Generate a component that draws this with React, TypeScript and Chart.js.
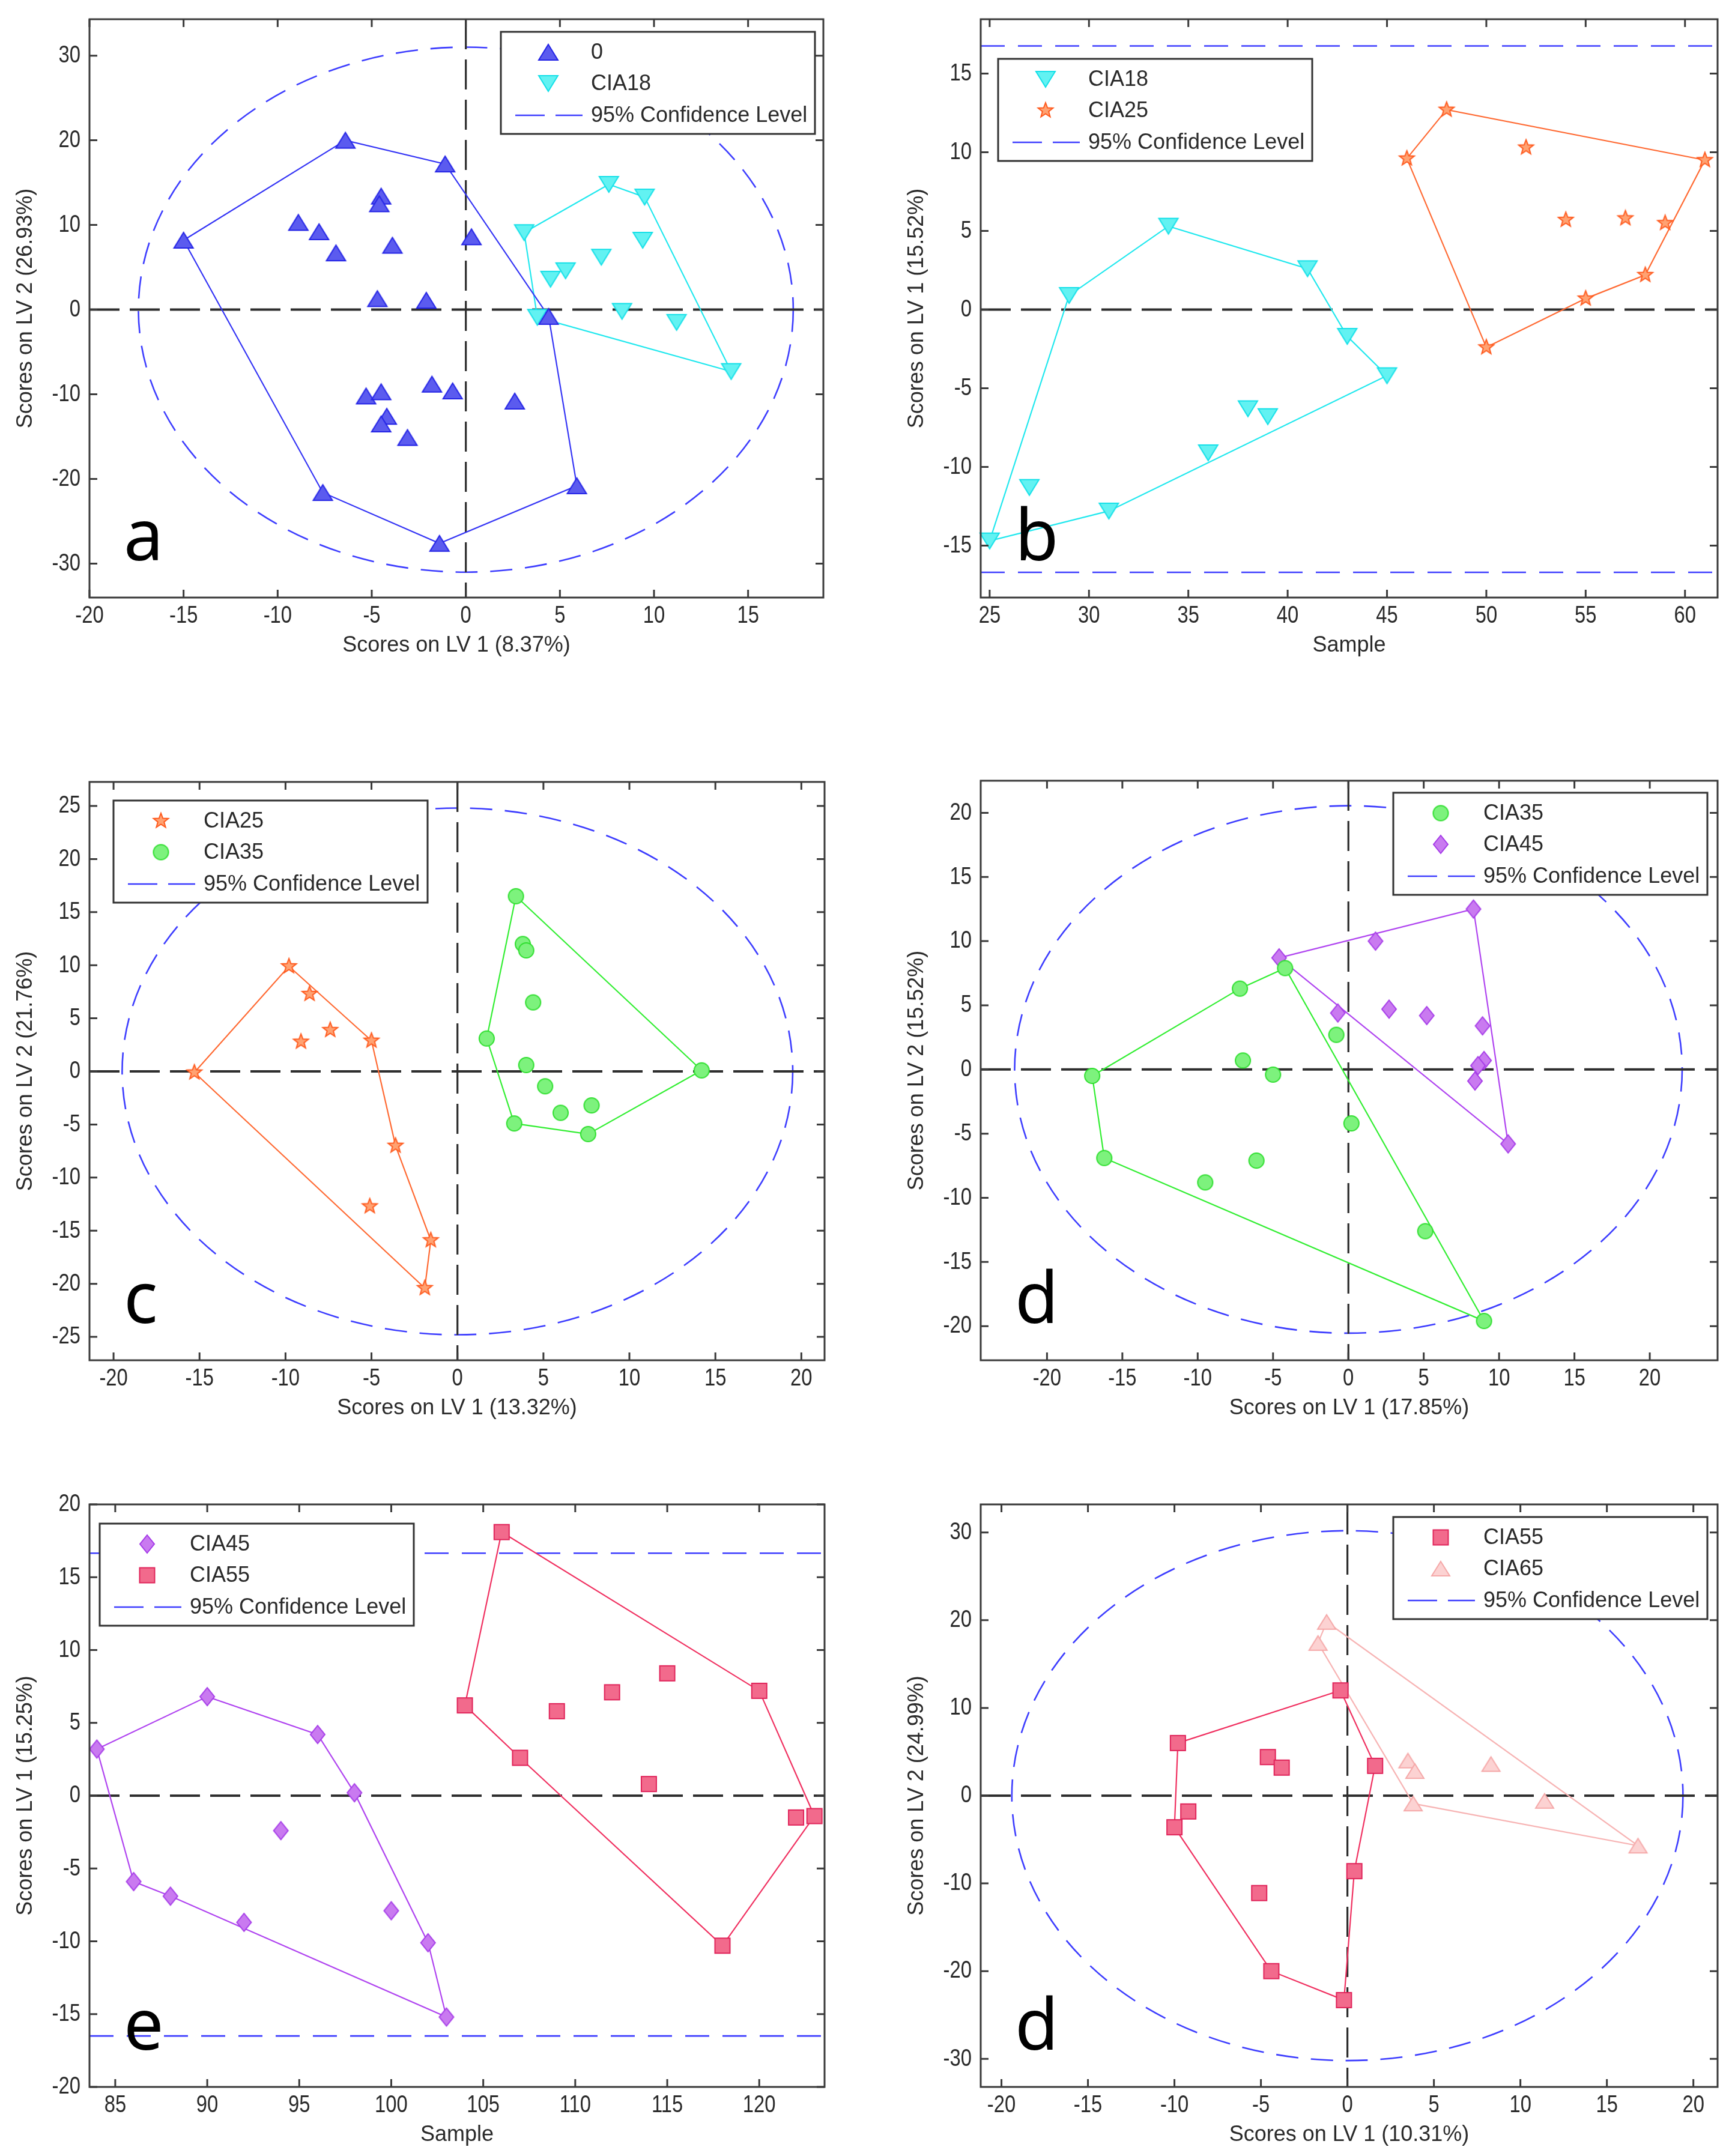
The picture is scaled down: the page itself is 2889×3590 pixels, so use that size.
import { useEffect, useRef } from 'react';
import { Chart, registerables } from 'chart.js';

Chart.register(...registerables);

type Pt = [number, number];

// ---------- panel a : 0 vs CIA18 (LV scores) ----------
const aGroup0: Pt[] = [
  [-15.0, 8.2], [-6.4, 20.0], [-1.1, 17.2], [-4.5, 13.4], [-4.6, 12.5], [-8.9, 10.3],
  [-7.8, 9.2], [-6.9, 6.7], [-3.9, 7.6], [0.3, 8.6], [-4.7, 1.3], [-2.1, 1.1],
  [4.4, -0.8], [-5.3, -10.2], [-4.5, -9.7], [-1.8, -8.8], [-0.7, -9.6], [2.6, -10.8],
  [-4.2, -12.6], [-4.5, -13.5], [-3.1, -15.1], [-7.6, -21.6], [5.9, -20.8], [-1.4, -27.6],
];
const aGroup0Hull = [0, 1, 2, 12, 22, 23, 21];
const aCIA18: Pt[] = [
  [3.1, 9.1], [7.6, 14.8], [9.5, 13.3], [9.4, 8.2], [7.2, 6.2], [5.3, 4.6],
  [4.5, 3.6], [8.3, -0.2], [11.2, -1.5], [3.8, -0.9], [14.1, -7.3],
];
const aCIA18Hull = [0, 1, 2, 10, 9];
const aLimit: Pt = [17.4, 31.0];
const aXTicks = [-20, -15, -10, -5, 0, 5, 10, 15];
const aYTicks = [-30, -20, -10, 0, 10, 20, 30];

// ---------- panel b : CIA18 / CIA25 by sample ----------
const bCIA18: Pt[] = [
  [25, -14.7], [27, -11.3], [29, 0.9], [31, -12.8], [34, 5.3], [36, -9.1],
  [38, -6.3], [39, -6.8], [41, 2.6], [43, -1.7], [45, -4.2],
];
const bCIA18Hull = [0, 2, 4, 8, 9, 10, 3];
const bCIA25: Pt[] = [
  [46, 9.6], [48, 12.7], [50, -2.4], [52, 10.3], [54, 5.7], [55, 0.7],
  [57, 5.8], [58, 2.2], [59, 5.5], [61, 9.5],
];
const bCIA25Hull = [0, 1, 9, 7, 5, 2];
const bLimits = [16.75, -16.7];
const bXTicks = [25, 30, 35, 40, 45, 50, 55, 60];
const bYTicks = [-15, -10, -5, 0, 5, 10, 15];

// ---------- panel c : CIA25 vs CIA35 ----------
const cCIA25: Pt[] = [
  [-15.3, -0.1], [-9.8, 9.9], [-8.6, 7.3], [-9.1, 2.8], [-7.4, 3.9],
  [-5.0, 2.9], [-3.6, -7.0], [-5.1, -12.7], [-1.55, -15.9], [-1.9, -20.4],
];
const cCIA25Hull = [0, 1, 5, 6, 8, 9];
const cCIA35: Pt[] = [
  [3.4, 16.5], [3.8, 12.0], [4.0, 11.4], [4.4, 6.5], [1.7, 3.1], [4.0, 0.6],
  [5.1, -1.4], [6.0, -3.9], [7.8, -3.2], [3.3, -4.9], [7.6, -5.9], [14.2, 0.1],
];
const cCIA35Hull = [0, 11, 10, 9, 4];
const cLimit: Pt = [19.5, 24.8];
const cXTicks = [-20, -15, -10, -5, 0, 5, 10, 15, 20];
const cYTicks = [-25, -20, -15, -10, -5, 0, 5, 10, 15, 20, 25];

// ---------- panel d : CIA35 vs CIA45 ----------
const dCIA35: Pt[] = [
  [-17.0, -0.5], [-16.2, -6.9], [-7.2, 6.3], [-7.0, 0.7], [-5.0, -0.4], [-4.2, 7.9],
  [-0.8, 2.7], [0.2, -4.2], [-6.1, -7.1], [-9.5, -8.8], [5.1, -12.6], [9.0, -19.6],
];
const dCIA35Hull = [0, 2, 5, 11, 1];
const dCIA45: Pt[] = [
  [-4.6, 8.7], [1.8, 10.0], [8.3, 12.5], [-0.7, 4.4], [2.7, 4.7], [5.2, 4.2],
  [8.9, 3.4], [9.0, 0.7], [8.6, 0.3], [8.4, -0.9], [10.6, -5.8],
];
const dCIA45Hull = [0, 2, 10];
const dLimit: Pt = [22.15, 20.55];
const dXTicks = [-20, -15, -10, -5, 0, 5, 10, 15, 20];
const dYTicks = [-20, -15, -10, -5, 0, 5, 10, 15, 20];

// ---------- panel e : CIA45 / CIA55 by sample ----------
const eCIA45: Pt[] = [
  [84, 3.2], [86, -5.9], [88, -6.9], [90, 6.8], [92, -8.7], [94, -2.4],
  [96, 4.2], [98, 0.2], [100, -7.9], [102, -10.1], [103, -15.2],
];
const eCIA45Hull = [0, 3, 6, 7, 9, 10, 2, 1];
const eCIA55: Pt[] = [
  [104, 6.2], [106, 18.1], [107, 2.6], [109, 5.8], [112, 7.1], [114, 0.8],
  [115, 8.4], [118, -10.3], [120, 7.2], [122, -1.5], [123, -1.4],
];
const eCIA55Hull = [0, 1, 8, 10, 7, 2];
const eLimits = [16.65, -16.5];
const eXTicks = [85, 90, 95, 100, 105, 110, 115, 120];
const eYTicks = [-20, -15, -10, -5, 0, 5, 10, 15, 20];

// ---------- panel f : CIA55 vs CIA65 ----------
const fCIA55: Pt[] = [
  [-0.4, 12.0], [-9.8, 6.0], [-4.6, 4.4], [-3.8, 3.2], [1.6, 3.4], [-9.2, -1.8],
  [-10.0, -3.6], [-5.1, -11.1], [0.4, -8.6], [-4.4, -20.0], [-0.2, -23.3],
];
const fCIA55Hull = [0, 4, 8, 10, 9, 6, 1];
const fCIA65: Pt[] = [
  [-1.2, 19.8], [-1.7, 17.4], [3.5, 4.0], [3.9, 2.8], [3.8, -0.9], [8.3, 3.6],
  [11.4, -0.6], [16.8, -5.7],
];
const fCIA65Hull = [0, 7, 4, 1];
const fLimit: Pt = [19.4, 30.2];
const fXTicks = [-20, -15, -10, -5, 0, 5, 10, 15, 20];
const fYTicks = [-30, -20, -10, 0, 10, 20, 30];

// ---------- styles ----------
type Shape = 'up' | 'down' | 'star' | 'circle' | 'diamond' | 'square';
interface MarkerStyle { shape: Shape; w: number; h: number; fill: string; stroke: string; line: string }

const BLUE: MarkerStyle = { shape: 'up', w: 32, h: 26, fill: '#5b5bef', stroke: '#2323e6', line: '#3434f5' };
const CYAN: MarkerStyle = { shape: 'down', w: 32, h: 26, fill: '#62f2f2', stroke: '#14e0e8', line: '#22e8ee' };
const ORANGE: MarkerStyle = { shape: 'star', w: 26, h: 26, fill: '#ffa272', stroke: '#ff5a1e', line: '#ff6a33' };
const GREEN: MarkerStyle = { shape: 'circle', w: 25, h: 25, fill: '#7df27d', stroke: '#2edf2e', line: '#33ee33' };
const PURPLE: MarkerStyle = { shape: 'diamond', w: 24, h: 30, fill: '#c97af0', stroke: '#a53ae8', line: '#b045f0' };
const RED: MarkerStyle = { shape: 'square', w: 25, h: 25, fill: '#f26a8c', stroke: '#e0245a', line: '#f03060' };
const PINK: MarkerStyle = { shape: 'up', w: 30, h: 24, fill: '#fcd2d2', stroke: '#f5a8a8', line: '#f7b4b4' };

interface Series { label: string; points: Pt[]; hull: number[]; style: MarkerStyle }
interface PanelSpec {
  id: string;
  letter: string;
  area: [number, number, number, number]; // left, top, right, bottom of plot box in page px
  xRange: [number, number];
  yRange: [number, number];
  xTicks: number[];
  yTicks: number[];
  xTitle: string;
  yTitle: string;
  series: Series[];
  ellipse?: Pt;
  hLimits?: number[];
  legend: { side: 'left' | 'right'; dx: number; dy: number };
}

const panels: PanelSpec[] = [
  {
    id: 'a', letter: 'a', area: [149, 32, 1371, 995], xRange: [-20, 19], yRange: [-34, 34.3],
    xTicks: aXTicks, yTicks: aYTicks, xTitle: 'Scores on LV 1 (8.37%)', yTitle: 'Scores on LV 2 (26.93%)',
    series: [
      { label: '0', points: aGroup0, hull: aGroup0Hull, style: BLUE },
      { label: 'CIA18', points: aCIA18, hull: aCIA18Hull, style: CYAN },
    ],
    ellipse: aLimit, legend: { side: 'right', dx: 14, dy: 21 },
  },
  {
    id: 'b', letter: 'b', area: [1633, 32, 2860, 995], xRange: [24.55, 61.64], yRange: [-18.3, 18.45],
    xTicks: bXTicks, yTicks: bYTicks, xTitle: 'Sample', yTitle: 'Scores on LV 1 (15.52%)',
    series: [
      { label: 'CIA18', points: bCIA18, hull: bCIA18Hull, style: CYAN },
      { label: 'CIA25', points: bCIA25, hull: bCIA25Hull, style: ORANGE },
    ],
    hLimits: bLimits, legend: { side: 'left', dx: 29, dy: 66 },
  },
  {
    id: 'c', letter: 'c', area: [149, 1302, 1373, 2265], xRange: [-21.4, 21.35], yRange: [-27.2, 27.26],
    xTicks: cXTicks, yTicks: cYTicks, xTitle: 'Scores on LV 1 (13.32%)', yTitle: 'Scores on LV 2 (21.76%)',
    series: [
      { label: 'CIA25', points: cCIA25, hull: cCIA25Hull, style: ORANGE },
      { label: 'CIA35', points: cCIA35, hull: cCIA35Hull, style: GREEN },
    ],
    ellipse: cLimit, legend: { side: 'left', dx: 40, dy: 31 },
  },
  {
    id: 'd', letter: 'd', area: [1633, 1300, 2860, 2265], xRange: [-24.4, 24.5], yRange: [-22.66, 22.5],
    xTicks: dXTicks, yTicks: dYTicks, xTitle: 'Scores on LV 1 (17.85%)', yTitle: 'Scores on LV 2 (15.52%)',
    series: [
      { label: 'CIA35', points: dCIA35, hull: dCIA35Hull, style: GREEN },
      { label: 'CIA45', points: dCIA45, hull: dCIA45Hull, style: PURPLE },
    ],
    ellipse: dLimit, legend: { side: 'right', dx: 17, dy: 20 },
  },
  {
    id: 'e', letter: 'e', area: [149, 2505, 1373, 3475], xRange: [83.6, 123.55], yRange: [-20, 20],
    xTicks: eXTicks, yTicks: eYTicks, xTitle: 'Sample', yTitle: 'Scores on LV 1 (15.25%)',
    series: [
      { label: 'CIA45', points: eCIA45, hull: eCIA45Hull, style: PURPLE },
      { label: 'CIA55', points: eCIA55, hull: eCIA55Hull, style: RED },
    ],
    hLimits: eLimits, legend: { side: 'left', dx: 17, dy: 32 },
  },
  {
    id: 'f', letter: 'd', area: [1633, 2505, 2860, 3475], xRange: [-21.2, 21.4], yRange: [-33.2, 33.2],
    xTicks: fXTicks, yTicks: fYTicks, xTitle: 'Scores on LV 1 (10.31%)', yTitle: 'Scores on LV 2 (24.99%)',
    series: [
      { label: 'CIA55', points: fCIA55, hull: fCIA55Hull, style: RED },
      { label: 'CIA65', points: fCIA65, hull: fCIA65Hull, style: PINK },
    ],
    ellipse: fLimit, legend: { side: 'right', dx: 17, dy: 21 },
  },
];

const PAD_L = 145;
const PAD_T = 40;
const PAD_R = 28;
const PAD_B = 110;
const TEXT = '#2a2a2a';
const AXIS = '#3a3a3a';
const LIMIT_BLUE = '#3d3dff';
const SANS = '"Liberation Sans", Arial, sans-serif';

function makeMarker(m: MarkerStyle): HTMLCanvasElement {
  const c = document.createElement('canvas');
  c.width = Math.ceil(m.w + 6);
  c.height = Math.ceil(m.h + 6);
  const g = c.getContext('2d')!;
  g.translate(c.width / 2, c.height / 2);
  const w = m.w / 2;
  const h = m.h / 2;
  g.beginPath();
  if (m.shape === 'up') {
    g.moveTo(0, -h); g.lineTo(w, h); g.lineTo(-w, h);
  } else if (m.shape === 'down') {
    g.moveTo(-w, -h); g.lineTo(w, -h); g.lineTo(0, h);
  } else if (m.shape === 'diamond') {
    g.moveTo(0, -h); g.lineTo(w, 0); g.lineTo(0, h); g.lineTo(-w, 0);
  } else if (m.shape === 'square') {
    g.rect(-w, -h, 2 * w, 2 * h);
  } else if (m.shape === 'circle') {
    g.arc(0, 0, w, 0, Math.PI * 2);
  } else {
    for (let k = 0; k < 10; k++) {
      const r = k % 2 === 0 ? w : w * 0.42;
      const a = -Math.PI / 2 + (k * Math.PI) / 5;
      if (k === 0) g.moveTo(r * Math.cos(a), r * Math.sin(a));
      else g.lineTo(r * Math.cos(a), r * Math.sin(a));
    }
  }
  g.closePath();
  g.fillStyle = m.fill;
  g.fill();
  g.lineWidth = 2;
  g.strokeStyle = m.stroke;
  g.stroke();
  return c;
}

// narrow tick labels, like the condensed Helvetica of the original figure
function narrowText(ctx: CanvasRenderingContext2D, text: string, x: number, y: number, align: CanvasTextAlign) {
  ctx.save();
  ctx.translate(x, y);
  ctx.scale(0.8, 1);
  ctx.textAlign = align;
  ctx.textBaseline = 'middle';
  ctx.fillText(text, 0, 0);
  ctx.restore();
}

function Panel({ spec }: { spec: PanelSpec }) {
  const ref = useRef<HTMLCanvasElement>(null);
  const [L, T, R, B] = spec.area;
  const width = R - L + PAD_L + PAD_R;
  const height = B - T + PAD_T + PAD_B;

  useEffect(() => {
    if (!ref.current) return;
    const markers = spec.series.map(s => makeMarker(s.style));
    const [xmin, xmax] = spec.xRange;
    const [ymin, ymax] = spec.yRange;

    const datasets: any[] = [];
    spec.series.forEach((s, i) => {
      datasets.push({
        label: s.label,
        data: s.points.map(([x, y]) => ({ x, y })),
        pointStyle: markers[i],
        pointRadius: 14,
        showLine: false,
        clip: false,
        order: 0,
      });
    });
    spec.series.forEach(s => {
      datasets.push({
        data: [...s.hull, s.hull[0]].map(k => ({ x: s.points[k][0], y: s.points[k][1] })),
        showLine: true,
        borderColor: s.style.line,
        borderWidth: 2.2,
        pointRadius: 0,
        tension: 0,
        order: 1,
      });
    });
    datasets.push({
      data: [{ x: xmin, y: 0 }, { x: xmax, y: 0 }],
      showLine: true, borderColor: '#2e2e2e', borderWidth: 4, borderDash: [50, 17], pointRadius: 0, order: 2,
    });
    if (spec.ellipse) {
      datasets.push({
        data: [{ x: 0, y: ymax }, { x: 0, y: ymin }],
        showLine: true, borderColor: '#2e2e2e', borderWidth: 3.2, borderDash: [50, 17], pointRadius: 0, order: 2,
      });
    }
    (spec.hLimits || []).forEach(v => {
      datasets.push({
        data: [{ x: xmin, y: v }, { x: xmax, y: v }],
        showLine: true, borderColor: LIMIT_BLUE, borderWidth: 2.6, borderDash: [40, 22], pointRadius: 0, order: 2,
      });
    });

    const decor = {
      id: 'decor',
      beforeDatasetsDraw(chart: any) {
        if (!spec.ellipse) return;
        const { ctx, chartArea } = chart;
        const xs = chart.scales.x;
        const ys = chart.scales.y;
        const cx = xs.getPixelForValue(0);
        const cy = ys.getPixelForValue(0);
        const rx = xs.getPixelForValue(spec.ellipse[0]) - cx;
        const ry = cy - ys.getPixelForValue(spec.ellipse[1]);
        ctx.save();
        ctx.beginPath();
        ctx.rect(chartArea.left, chartArea.top, chartArea.right - chartArea.left, chartArea.bottom - chartArea.top);
        ctx.clip();
        ctx.setLineDash([37, 21]);
        ctx.strokeStyle = LIMIT_BLUE;
        ctx.lineWidth = 2.6;
        ctx.beginPath();
        ctx.ellipse(cx, cy, rx, ry, 0, 0, Math.PI * 2);
        ctx.stroke();
        ctx.restore();
      },
      afterDraw(chart: any) {
        const { ctx, chartArea } = chart;
        const { left, top, right, bottom } = chartArea;
        const xs = chart.scales.x;
        const ys = chart.scales.y;
        ctx.save();
        // box and inward ticks on all sides
        ctx.strokeStyle = AXIS;
        ctx.lineWidth = 3;
        ctx.setLineDash([]);
        ctx.strokeRect(left, top, right - left, bottom - top);
        ctx.beginPath();
        spec.xTicks.forEach(v => {
          const px = xs.getPixelForValue(v);
          ctx.moveTo(px, bottom); ctx.lineTo(px, bottom - 13);
          ctx.moveTo(px, top); ctx.lineTo(px, top + 13);
        });
        spec.yTicks.forEach(v => {
          const py = ys.getPixelForValue(v);
          ctx.moveTo(left, py); ctx.lineTo(left + 13, py);
          ctx.moveTo(right, py); ctx.lineTo(right - 13, py);
        });
        ctx.stroke();

        // tick labels
        ctx.fillStyle = TEXT;
        ctx.font = `41px ${SANS}`;
        xs.ticks.forEach((t: any) => narrowText(ctx, String(t.value), xs.getPixelForValue(t.value), bottom + 31, 'center'));
        ys.ticks.forEach((t: any) => narrowText(ctx, String(t.value), left - 15, ys.getPixelForValue(t.value), 'right'));

        // axis titles
        ctx.font = `36px ${SANS}`;
        ctx.textAlign = 'center';
        ctx.textBaseline = 'middle';
        ctx.fillText(spec.xTitle, (left + right) / 2, bottom + 80);
        ctx.save();
        ctx.translate(left - 106, (top + bottom) / 2);
        ctx.rotate(-Math.PI / 2);
        ctx.fillText(spec.yTitle, 0, 0);
        ctx.restore();

        // legend
        const LW = 523;
        const LH = 170;
        const bx = spec.legend.side === 'right' ? right - spec.legend.dx - LW : left + spec.legend.dx;
        const by = top + spec.legend.dy;
        ctx.fillStyle = '#fff';
        ctx.fillRect(bx, by, LW, LH);
        ctx.strokeStyle = '#333';
        ctx.lineWidth = 3;
        ctx.strokeRect(bx, by, LW, LH);
        const rows = [34, 86, 139];
        ctx.textAlign = 'left';
        ctx.font = `36px ${SANS}`;
        spec.series.forEach((s, i) => {
          const m = markers[i];
          ctx.drawImage(m, bx + 79 - m.width / 2, by + rows[i] - m.height / 2);
          ctx.fillStyle = TEXT;
          ctx.fillText(s.label, bx + 150, by + rows[i] + 1);
        });
        ctx.beginPath();
        ctx.setLineDash([49, 18]);
        ctx.strokeStyle = LIMIT_BLUE;
        ctx.lineWidth = 2.6;
        ctx.moveTo(bx + 24, by + rows[2]);
        ctx.lineTo(bx + 136, by + rows[2]);
        ctx.stroke();
        ctx.setLineDash([]);
        ctx.fillStyle = TEXT;
        ctx.fillText('95% Confidence Level', bx + 150, by + rows[2] + 1);

        // panel letter
        ctx.fillStyle = '#000';
        ctx.font = `118px "Noto Sans", "Open Sans", sans-serif`;
        ctx.textBaseline = 'alphabetic';
        ctx.fillText(spec.letter, left + 57, bottom - 62);
        ctx.restore();
      },
    };

    const chart = new Chart(ref.current, {
      type: 'scatter',
      data: { datasets },
      options: {
        animation: false,
        responsive: false,
        events: [],
        layout: { padding: { left: 0, top: PAD_T, right: PAD_R, bottom: 0 } },
        plugins: { legend: { display: false }, tooltip: { enabled: false } },
        scales: {
          x: {
            type: 'linear',
            min: xmin,
            max: xmax,
            grid: { display: false },
            border: { display: false },
            ticks: { display: false, autoSkip: false, maxRotation: 0 },
            afterBuildTicks: (s: any) => { s.ticks = spec.xTicks.map(value => ({ value })); },
            afterFit: (s: any) => { s.height = PAD_B; },
          },
          y: {
            type: 'linear',
            min: ymin,
            max: ymax,
            grid: { display: false },
            border: { display: false },
            ticks: { display: false, autoSkip: false },
            afterBuildTicks: (s: any) => { s.ticks = spec.yTicks.map(value => ({ value })); },
            afterFit: (s: any) => { s.width = PAD_L; },
          },
        },
      } as any,
      plugins: [decor],
    });
    return () => chart.destroy();
  }, [spec]);

  return (
    <canvas
      ref={ref}
      width={width}
      height={height}
      style={{ position: 'absolute', left: L - PAD_L, top: T - PAD_T, width, height }}
    />
  );
}

export default function App() {
  return (
    <div style={{ position: 'absolute', left: 0, top: 0, width: 2889, height: 3590, background: '#fff', overflow: 'hidden' }}>
      {panels.map(p => (
        <Panel key={p.id} spec={p} />
      ))}
    </div>
  );
}
